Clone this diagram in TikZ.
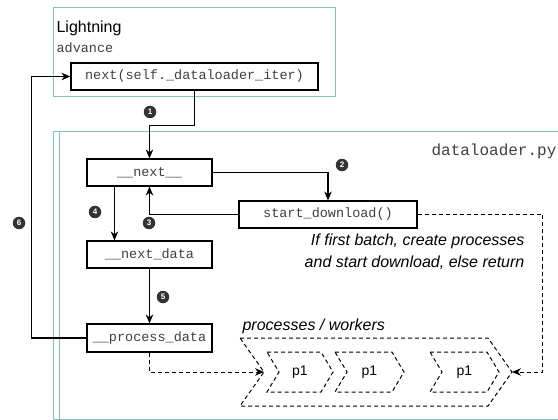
\documentclass[tikz,border=0pt]{standalone}
\usepackage{fontspec}
\setmainfont{Liberation Sans}
\setmonofont{Liberation Mono}
\usetikzlibrary{arrows.meta}
\definecolor{frameteal}{RGB}{130,196,184}
\begin{document}
\begin{tikzpicture}[x=1pt, y=-1pt, line width=1.2pt, >={Stealth[length=9pt, width=7.5pt]}]
	\tikzstyle{square} = [rectangle, draw, minimum height=27pt, inner sep=0pt, font=\ttfamily\fontsize{13.5}{13.5}\selectfont, text=black!75]
	\tikzstyle{badge} = [circle, fill=black!80, text=white, inner sep=0pt, minimum size=12.5pt, font=\bfseries\fontsize{8}{8}\selectfont]
	\tikzstyle{frame} = [draw=frameteal, line width=1pt]
	\tikzstyle{flow} = [dash pattern=on 4pt off 3pt, line width=1pt]
	\tikzstyle{label} = [inner sep=0pt, anchor=base west]

	\useasboundingbox (0,0) rectangle (558,420);

	\draw[frame] (53,8) rectangle (335,97);
	\draw[frame] (53,132) rectangle (566,419);
	\draw[frame] (59,132) -- (59,419);

	\node[label, font=\fontsize{16}{16}\selectfont] (lightning) at (56,32.5) {Lightning};
	\node[label, font=\ttfamily\fontsize{13.5}{13.5}\selectfont, text=black!75] (advance) at (56,52.5) {advance};
	\node[label, anchor=base east, font=\ttfamily\fontsize{16}{16}\selectfont, text=black!75] (file) at (557,156) {dataloader.py};

	\node[square, minimum width=247pt] (iter) at (194.5,76.5) {next(self.\_dataloader\_iter)};
	\node[square, minimum width=125pt] (next) at (149.5,172.5) {\_\_next\_\_};
	\node[square, minimum width=178pt] (startdl) at (328,214.5) {start\_download()};
	\node[square, minimum width=125pt] (nextdata) at (149.5,254.5) {\_\_next\_data};
	\node[square, minimum width=125pt, minimum height=28pt] (procdata) at (149.5,338) {\_\_process\_data};

	\node[label, anchor=base east, font=\itshape\fontsize{16}{16}\selectfont] (note1) at (525,246) {If first batch, create processes};
	\node[label, anchor=base east, font=\itshape\fontsize{16}{16}\selectfont] (note2) at (525,268) {and start download, else return};
	\node[label, font=\itshape\fontsize{16}{16}\selectfont] (workers) at (242,330) {processes / workers};

	% chevrons for the workers
	\draw[flow] (240,338) -- (488,338) -- (512,372) -- (488,406) -- (240,406) -- (264,372) -- cycle;
	\coordinate (wnotch) at (264,372);
	\coordinate (wtip) at (512,372);
	\foreach \name/\lx/\rx in {w1/267/321, w2/335/392, w3/430/487} {
		\draw[flow] (\lx,352) -- (\rx,352) -- (\rx+12,372) -- (\rx,392) -- (\lx,392) -- (\lx+12,372) -- cycle;
		\node[font=\fontsize{14}{14}\selectfont] (\name) at ({(\lx+\rx+12)/2},372) {p1};
	}

	\draw[->] (iter.south) -- ++(0,35) -| (next.north);
	\draw[->] (next.east) -| (startdl.north);
	\draw[->] (startdl.west) -| (next.south);
	\draw[->] ([xshift=-35pt]next.south) -- ([xshift=-35pt]nextdata.north);
	\draw[->] (nextdata.south) -- (procdata.north);
	\draw[->] (procdata.west) -- ++(-55,0) |- (iter.west);

	\draw[->, flow] (procdata.south) |- (wnotch);
	\draw[->, flow] (startdl.east) -- ++(125,0) |- (wtip);

	\foreach \index/\x/\y in {1/150/112, 2/342/165, 3/149/223, 4/95/212, 5/163/297, 6/19/223} {
		\node[badge] (b-\index) at (\x,\y) {\index};
	}
\end{tikzpicture}
\end{document}
